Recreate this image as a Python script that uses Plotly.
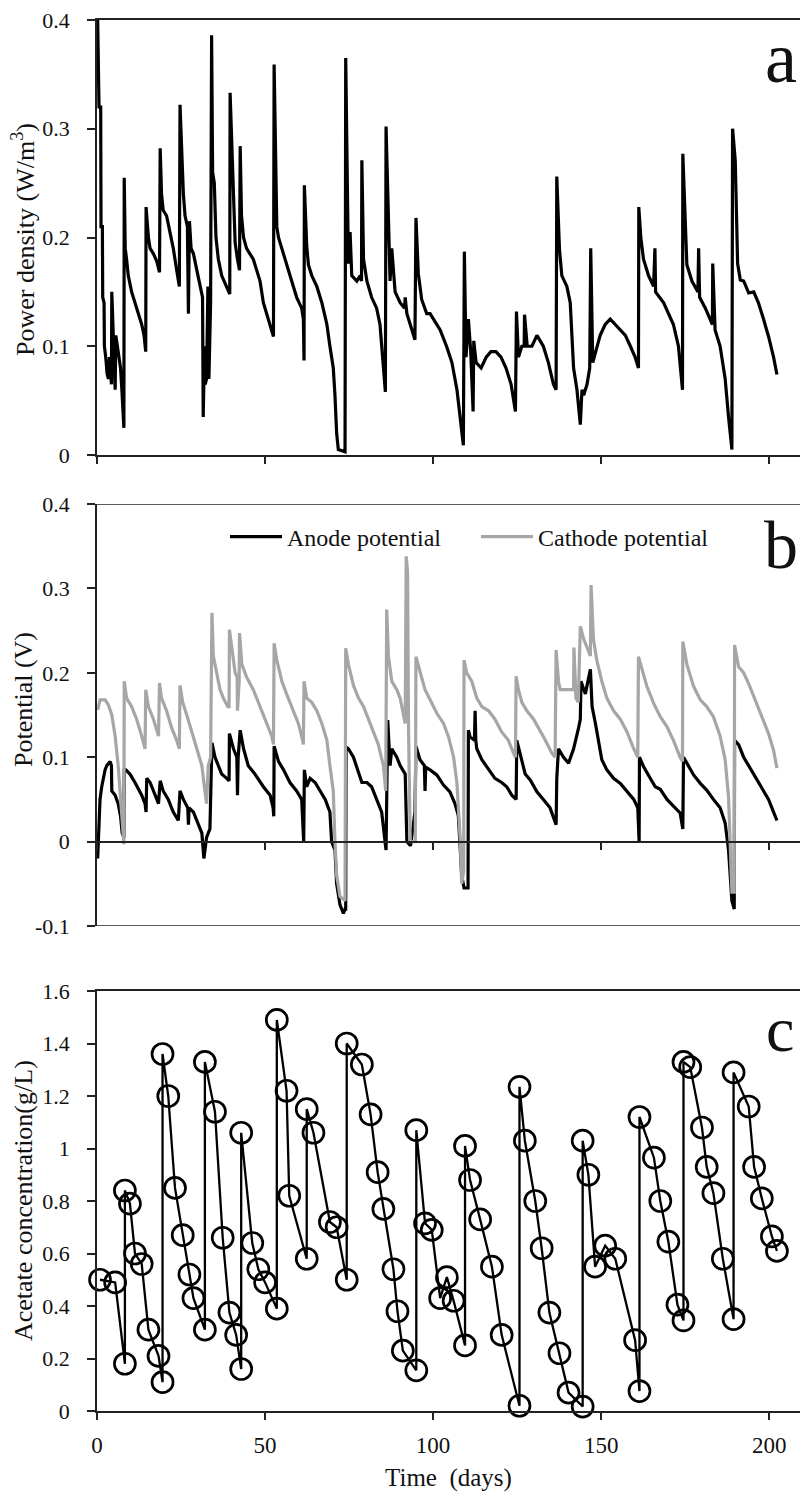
import plotly.graph_objects as go

# ---------------- data ----------------
power_days = [0.2, 0.6, 1.1, 1.2, 1.6, 1.7, 2.1, 2.2, 2.6, 3.0, 3.4, 3.7, 4.0, 4.3, 4.4, 4.7, 5.2, 5.4, 5.6, 6.0,
              6.5, 7.0, 7.4, 7.7, 8.0, 8.1, 8.4, 8.8, 9.3, 10.3, 11.8, 13.3, 14.0, 14.5, 14.6, 15.0, 15.3, 15.8, 16.8, 17.8,
              18.6, 18.8, 19.2, 19.7, 20.7, 21.7, 22.7, 23.7, 24.5, 24.7, 25.2, 25.7, 26.2, 26.9, 27.2, 27.5, 28.0, 28.7, 29.7, 30.7,
              31.4, 31.6, 32.0, 32.2, 32.6, 33.0, 33.3, 33.8, 34.1, 34.4, 34.9, 35.4, 36.1, 37.1, 38.6, 39.5, 39.6, 40.1, 40.6, 41.1,
              41.8, 42.4, 42.6, 43.0, 43.6, 44.5, 45.5, 46.5, 47.5, 48.5, 49.5, 50.5, 51.5, 52.5, 52.7, 53.1, 53.5, 54.0, 55.0, 56.4,
              57.9, 59.4, 60.9, 61.4, 61.6, 61.7, 62.4, 62.9, 63.9, 65.4, 66.9, 68.4, 69.3, 70.3, 70.8, 71.3, 71.8, 73.8, 74.0, 74.5,
              74.8, 75.3, 75.8, 77.3, 78.3, 78.7, 78.8, 79.3, 80.3, 81.7, 83.2, 84.2, 85.2, 85.8, 86.0, 86.7, 87.2, 87.7, 88.7, 90.2,
              91.5, 91.7, 92.2, 93.2, 94.6, 94.9, 95.6, 96.6, 98.1, 99.1, 100.1, 102.1, 104.0, 105.6, 107.1, 108.0, 109.0, 109.3, 109.8, 110.5,
              111.2, 111.9, 112.1, 112.8, 114.3, 115.8, 117.2, 118.7, 120.2, 121.7, 123.2, 124.5, 124.8, 125.4, 126.4, 127.1, 127.2, 128.0, 129.4, 130.9,
              131.8, 132.8, 134.3, 135.8, 136.6, 136.8, 137.6, 138.3, 139.8, 140.8, 141.8, 142.8, 143.8, 144.3, 144.8, 145.8, 146.6, 146.9, 147.5, 148.7,
              149.7, 151.2, 152.7, 154.2, 155.7, 157.2, 158.7, 160.1, 161.1, 161.2, 161.8, 162.6, 164.1, 165.6, 166.0, 166.2, 168.6, 170.0, 171.5, 173.0,
              174.2, 174.3, 175.0, 175.5, 177.0, 178.8, 179.0, 179.3, 181.0, 182.4, 183.1, 183.2, 183.9, 185.4, 186.9, 187.9, 188.9, 189.1, 189.9, 190.6,
              191.4, 192.4, 193.9, 195.4, 196.8, 198.3, 199.8, 201.3, 202.3]
power_vals = [0.40, 0.32, 0.32, 0.21, 0.21, 0.145, 0.14, 0.10, 0.09, 0.075, 0.07, 0.09, 0.08, 0.065, 0.15, 0.12, 0.09, 0.06, 0.11, 0.10,
              0.09, 0.08, 0.06, 0.04, 0.025, 0.255, 0.19, 0.18, 0.165, 0.15, 0.135, 0.12, 0.11, 0.095, 0.228, 0.21, 0.20, 0.19, 0.185, 0.178,
              0.168, 0.282, 0.24, 0.225, 0.22, 0.205, 0.19, 0.17, 0.155, 0.322, 0.28, 0.24, 0.22, 0.21, 0.13, 0.215, 0.19, 0.185, 0.17, 0.155,
              0.145, 0.035, 0.10, 0.065, 0.07, 0.155, 0.07, 0.14, 0.386, 0.26, 0.25, 0.20, 0.18, 0.165, 0.155, 0.148, 0.333, 0.287, 0.22, 0.195,
              0.18, 0.17, 0.284, 0.22, 0.20, 0.19, 0.185, 0.18, 0.17, 0.16, 0.14, 0.13, 0.12, 0.109, 0.359, 0.267, 0.21, 0.20, 0.19, 0.175,
              0.16, 0.145, 0.135, 0.125, 0.087, 0.248, 0.192, 0.175, 0.165, 0.155, 0.14, 0.12, 0.10, 0.08, 0.055, 0.02, 0.005, 0.003, 0.365, 0.26,
              0.176, 0.205, 0.165, 0.16, 0.165, 0.16, 0.271, 0.18, 0.16, 0.145, 0.135, 0.12, 0.08, 0.058, 0.302, 0.21, 0.16, 0.19, 0.15, 0.14,
              0.135, 0.145, 0.13, 0.12, 0.106, 0.218, 0.167, 0.143, 0.13, 0.13, 0.125, 0.115, 0.10, 0.085, 0.06, 0.035, 0.009, 0.187, 0.09, 0.125,
              0.095, 0.04, 0.105, 0.085, 0.08, 0.09, 0.095, 0.095, 0.09, 0.08, 0.065, 0.04, 0.132, 0.09, 0.10, 0.10, 0.129, 0.10, 0.10, 0.11,
              0.105, 0.10, 0.085, 0.065, 0.06, 0.256, 0.189, 0.165, 0.155, 0.14, 0.08, 0.06, 0.028, 0.06, 0.055, 0.065, 0.08, 0.19, 0.085, 0.10,
              0.11, 0.12, 0.125, 0.12, 0.115, 0.11, 0.10, 0.09, 0.08, 0.228, 0.20, 0.18, 0.165, 0.155, 0.19, 0.15, 0.14, 0.13, 0.12, 0.10,
              0.06, 0.277, 0.22, 0.175, 0.16, 0.15, 0.19, 0.145, 0.135, 0.125, 0.12, 0.176, 0.115, 0.10, 0.07, 0.035, 0.005, 0.30, 0.271, 0.176,
              0.161, 0.16, 0.149, 0.15, 0.14, 0.125, 0.109, 0.09, 0.074]

anode_days = [0.2, 0.4, 0.9, 1.4, 2.4, 2.9, 3.9, 4.3, 4.4, 5.4, 6.3, 7.0, 7.5, 8.0, 8.1, 8.6, 9.8, 11.3, 13.3, 14.3,
              14.6, 14.8, 15.8, 17.3, 18.3, 18.8, 19.7, 21.2, 22.7, 24.2, 24.7, 25.7, 27.0, 27.2, 27.4, 28.7, 30.2, 31.2, 31.8, 32.6,
              33.6, 34.2, 35.1, 36.1, 37.1, 38.6, 39.3, 39.4, 40.6, 41.6, 41.8, 42.0, 42.6, 43.6, 45.0, 47.0, 49.5, 51.5, 52.4, 52.6,
              52.7, 54.0, 55.5, 57.4, 59.4, 60.9, 61.5, 61.7, 62.4, 63.4, 64.9, 66.4, 67.9, 69.3, 69.8, 70.8, 71.3, 72.3, 73.3, 73.8,
              74.0, 74.1, 74.8, 76.3, 77.8, 78.8, 80.3, 81.7, 83.2, 84.7, 85.7, 86.0, 86.5, 87.2, 87.7, 89.2, 90.2, 91.7, 92.2, 93.3,
              94.6, 94.9, 96.1, 97.4, 97.6, 97.8, 99.1, 101.1, 103.1, 105.0, 106.5, 107.5, 108.1, 108.5, 109.2, 110.4, 110.5, 111.0, 112.3, 112.5,
              112.7, 113.0, 114.5, 116.5, 118.4, 120.4, 121.9, 123.4, 124.7, 124.9, 125.9, 127.4, 128.9, 130.9, 132.8, 134.8, 136.6, 136.8, 137.3, 138.8,
              140.3, 141.8, 143.3, 143.8, 144.0, 145.3, 146.8, 147.3, 148.3, 149.3, 150.2, 151.7, 153.7, 155.7, 157.7, 159.7, 160.9, 161.1, 161.3, 161.4,
              162.6, 164.6, 166.1, 167.6, 169.6, 171.5, 173.5, 174.3, 174.5, 175.5, 177.5, 179.5, 181.4, 183.4, 185.4, 186.9, 187.9, 188.9, 189.4, 189.6,
              189.7, 190.9, 192.4, 193.9, 195.4, 196.8, 198.3, 199.8, 201.3, 202.3]
anode_vals = [-0.02, 0.01, 0.05, 0.065, 0.085, 0.09, 0.095, 0.09, 0.06, 0.055, 0.045, 0.03, 0.01, 0.005, 0.085, 0.085, 0.08, 0.07, 0.055, 0.045,
              0.035, 0.075, 0.07, 0.055, 0.045, 0.072, 0.06, 0.05, 0.035, 0.025, 0.06, 0.05, 0.04, 0.02, 0.04, 0.035, 0.02, 0.01, -0.02, 0.005,
              0.015, 0.117, 0.10, 0.09, 0.08, 0.075, 0.072, 0.128, 0.11, 0.10, 0.055, 0.10, 0.132, 0.11, 0.09, 0.08, 0.065, 0.055, 0.04, 0.03,
              0.113, 0.095, 0.085, 0.07, 0.06, 0.05, 0.0, 0.085, 0.065, 0.075, 0.07, 0.06, 0.05, 0.035, 0.0, -0.01, -0.05, -0.075, -0.085, -0.08,
              -0.08, 0.112, 0.11, 0.10, 0.08, 0.07, 0.07, 0.065, 0.05, 0.035, 0.0, -0.01, 0.144, 0.09, 0.11, 0.10, 0.09, 0.08, 0.0, -0.005,
              0.035, 0.113, 0.097, 0.09, 0.06, 0.088, 0.085, 0.079, 0.067, 0.059, 0.045, 0.031, -0.01, -0.04, -0.055, -0.055, 0.132, 0.124, 0.12, 0.155,
              0.12, 0.11, 0.097, 0.085, 0.075, 0.07, 0.065, 0.055, 0.05, 0.12, 0.105, 0.08, 0.073, 0.059, 0.05, 0.04, 0.02, 0.075, 0.11, 0.10,
              0.093, 0.11, 0.135, 0.145, 0.19, 0.175, 0.204, 0.16, 0.14, 0.117, 0.097, 0.085, 0.075, 0.069, 0.06, 0.05, 0.04, 0.0, 0.0, 0.10,
              0.089, 0.075, 0.065, 0.062, 0.05, 0.042, 0.034, 0.015, 0.10, 0.093, 0.079, 0.069, 0.061, 0.05, 0.04, 0.022, -0.01, -0.07, -0.08, -0.08,
              0.12, 0.115, 0.10, 0.09, 0.08, 0.07, 0.06, 0.05, 0.035, 0.025]

cathode_days = [0.2, 0.9, 2.4, 3.4, 4.4, 5.4, 6.3, 7.3, 8.0, 8.1, 8.8, 10.3, 11.8, 13.3, 14.3, 14.5, 15.3, 16.8, 18.3, 18.6,
                19.2, 20.7, 22.2, 23.7, 24.5, 24.7, 25.5, 26.7, 28.2, 29.7, 31.2, 32.1, 32.6, 33.1, 33.8, 34.2, 34.6, 35.6, 36.6, 37.6,
                38.9, 39.3, 39.4, 40.1, 41.1, 41.7, 41.8, 42.3, 42.4, 43.1, 44.5, 46.5, 48.5, 50.5, 52.0, 52.5, 52.7, 53.5, 55.0, 56.4,
                58.4, 59.9, 60.9, 61.4, 61.6, 62.4, 63.9, 65.4, 66.9, 68.4, 69.3, 70.3, 70.8, 71.3, 72.3, 73.8, 74.0, 74.8, 76.3, 77.8,
                79.3, 80.8, 82.2, 83.7, 85.2, 85.9, 86.2, 86.7, 87.7, 89.2, 90.2, 91.7, 92.0, 92.4, 92.7, 93.2, 94.0, 94.7, 94.9, 96.1,
                97.6, 99.1, 101.1, 103.1, 104.6, 106.1, 107.1, 108.1, 108.5, 109.1, 109.2, 110.0, 111.5, 113.0, 114.5, 116.5, 118.4, 120.4, 122.4, 123.9,
                124.5, 124.7, 125.4, 126.4, 127.9, 129.9, 131.4, 133.4, 135.3, 136.3, 136.6, 137.3, 137.8, 139.0, 140.4, 141.8, 141.9, 142.5, 143.2, 143.8,
                144.8, 145.8, 146.8, 147.0, 147.7, 148.7, 150.2, 151.7, 153.7, 155.7, 157.7, 159.7, 160.9, 161.1, 162.1, 163.6, 165.6, 167.6, 169.6, 171.5,
                173.5, 174.2, 174.3, 175.5, 177.5, 179.5, 181.4, 183.4, 185.4, 186.9, 187.9, 188.4, 188.9, 189.6, 189.7, 190.9, 192.4, 193.9, 195.4, 196.8,
                198.3, 199.8, 201.3, 202.3]
cathode_vals = [0.156, 0.168, 0.168, 0.162, 0.15, 0.125, 0.09, 0.04, -0.003, 0.19, 0.17, 0.16, 0.145, 0.125, 0.11, 0.18, 0.16, 0.145, 0.125, 0.188,
                0.17, 0.155, 0.135, 0.12, 0.11, 0.185, 0.165, 0.15, 0.13, 0.11, 0.09, 0.06, 0.045, 0.09, 0.10, 0.271, 0.22, 0.20, 0.18, 0.17,
                0.16, 0.16, 0.251, 0.23, 0.20, 0.195, 0.155, 0.19, 0.247, 0.21, 0.195, 0.18, 0.16, 0.14, 0.125, 0.115, 0.235, 0.215, 0.19, 0.175,
                0.155, 0.14, 0.125, 0.115, 0.19, 0.17, 0.165, 0.155, 0.14, 0.12, 0.09, 0.06, 0.0, -0.04, -0.065, -0.07, 0.229, 0.21, 0.185, 0.17,
                0.16, 0.145, 0.13, 0.115, 0.09, 0.06, 0.275, 0.22, 0.19, 0.18, 0.17, 0.14, 0.338, 0.32, 0.13, 0.0, 0.0, 0.0, 0.219, 0.20,
                0.18, 0.168, 0.152, 0.14, 0.124, 0.10, 0.069, 0.0, -0.05, -0.035, 0.215, 0.20, 0.19, 0.17, 0.16, 0.155, 0.145, 0.13, 0.12, 0.105,
                0.10, 0.196, 0.18, 0.165, 0.155, 0.145, 0.135, 0.12, 0.105, 0.10, 0.227, 0.19, 0.18, 0.18, 0.18, 0.18, 0.23, 0.17, 0.165, 0.255,
                0.24, 0.23, 0.22, 0.304, 0.24, 0.215, 0.19, 0.17, 0.155, 0.145, 0.13, 0.11, 0.10, 0.219, 0.204, 0.184, 0.164, 0.148, 0.136, 0.12,
                0.10, 0.095, 0.237, 0.21, 0.184, 0.168, 0.16, 0.148, 0.125, 0.097, 0.053, -0.005, -0.06, -0.06, 0.233, 0.207, 0.20, 0.187, 0.172, 0.158,
                0.144, 0.128, 0.108, 0.087]

acetate_days = [0.9, 5.4, 8.3, 8.3, 9.8, 11.3, 13.3, 15.3, 18.3, 19.5, 19.5, 21.2, 23.2, 25.5, 27.5, 28.7, 32.1, 32.1, 35.1, 37.4,
                39.4, 41.4, 42.9, 42.9, 46.2, 48.0, 50.0, 53.5, 53.5, 56.4, 57.2, 62.4, 62.4, 64.4, 69.3, 71.3, 74.3, 74.3, 78.8, 81.4,
                83.5, 85.2, 88.2, 89.4, 91.0, 95.0, 95.0, 97.6, 99.6, 102.1, 104.1, 106.1, 109.5, 109.5, 111.0, 114.0, 117.5, 120.4, 125.7, 125.7,
                127.3, 130.4, 132.3, 134.6, 137.6, 140.3, 144.5, 144.5, 146.2, 148.2, 151.2, 154.2, 160.1, 161.4, 161.4, 165.7, 167.6, 170.0, 172.7, 174.5,
                174.5, 176.5, 180.0, 181.4, 183.4, 186.2, 189.4, 189.4, 193.9, 195.5, 197.8, 200.8, 202.3]
acetate_vals = [0.50, 0.49, 0.18, 0.84, 0.79, 0.60, 0.56, 0.31, 0.21, 0.11, 1.36, 1.20, 0.85, 0.67, 0.52, 0.43, 0.31, 1.33, 1.14, 0.66,
                0.375, 0.29, 0.16, 1.06, 0.64, 0.54, 0.49, 0.39, 1.49, 1.22, 0.82, 0.58, 1.15, 1.06, 0.72, 0.70, 0.50, 1.40, 1.32, 1.13,
                0.91, 0.77, 0.54, 0.38, 0.23, 0.155, 1.07, 0.715, 0.69, 0.43, 0.51, 0.42, 0.25, 1.01, 0.88, 0.73, 0.55, 0.29, 0.02, 1.235,
                1.03, 0.80, 0.62, 0.375, 0.22, 0.07, 0.017, 1.03, 0.90, 0.55, 0.63, 0.58, 0.27, 0.076, 1.12, 0.965, 0.80, 0.645, 0.405, 0.345,
                1.33, 1.31, 1.08, 0.93, 0.83, 0.58, 0.35, 1.29, 1.16, 0.93, 0.81, 0.665, 0.61]

x_ticks = [0, 50, 100, 150, 200]
x_ticktext = ["0", "50", "100", "150", "200"]
power_ticks = [0, 0.1, 0.2, 0.3, 0.4]
power_ticktext = ["0", "0.1", "0.2", "0.3", "0.4"]
pot_ticks = [-0.1, 0, 0.1, 0.2, 0.3, 0.4]
pot_ticktext = ["-0.1", "0", "0.1", "0.2", "0.3", "0.4"]
ac_ticks = [0, 0.2, 0.4, 0.6, 0.8, 1.0, 1.2, 1.4, 1.6]
ac_ticktext = ["0", "0.2", "0.4", "0.6", "0.8", "1", "1.2", "1.4", "1.6"]

# ---------------- layout helpers (pixels) ----------------
W, H = 800, 1492
LEFT, TOP = 97, 20
PLOT_BOTTOM = 1411
BOTTOM = H - PLOT_BOTTOM
PH = PLOT_BOTTOM - TOP
PW = W - LEFT
PX_PER_DAY = 3.361
XMAX = PW / PX_PER_DAY


def yf(p):
    return (PLOT_BOTTOM - p) / PH


def xf(p):
    return (p - LEFT) / PW


FONT = "Liberation Serif"
TXT = "#111111"
AX = "#222222"
LW = 3.2

fig = go.Figure()
fig.add_trace(go.Scatter(x=power_days, y=power_vals, mode="lines", xaxis="x", yaxis="y",
                         line=dict(color="black", width=LW), showlegend=False, name="Power density"))
fig.add_trace(go.Scatter(x=anode_days, y=anode_vals, mode="lines", xaxis="x2", yaxis="y2",
                         line=dict(color="black", width=LW), name="Anode potential"))
fig.add_trace(go.Scatter(x=cathode_days, y=cathode_vals, mode="lines", xaxis="x2", yaxis="y2",
                         line=dict(color="#a6a6a6", width=LW), name="Cathode potential"))
fig.add_trace(go.Scatter(x=acetate_days, y=acetate_vals, mode="lines+markers", xaxis="x3", yaxis="y3",
                         line=dict(color="black", width=2.3), cliponaxis=False,
                         marker=dict(symbol="circle-open", size=21, color="black", line=dict(width=2.7, color="black")),
                         showlegend=False, name="Acetate"))

common_x = dict(range=[0, XMAX], tickvals=x_ticks, ticktext=x_ticktext, ticks="outside", ticklen=7,
                tickwidth=1.5, tickcolor=AX, showline=True, linecolor=AX, linewidth=1.5,
                showgrid=False, zeroline=False, domain=[0, 1],
                tickfont=dict(family=FONT, size=23, color=TXT))
common_y = dict(ticks="outside", ticklen=8, tickwidth=1.5, tickcolor=AX, showline=True, linecolor=AX,
                linewidth=1.5, showgrid=False, zeroline=False, ticklabelstandoff=13,
                tickfont=dict(family=FONT, size=22, color=TXT))

fig.update_layout(
    width=W, height=H, margin=dict(l=LEFT, r=0, t=TOP, b=BOTTOM, pad=0),
    paper_bgcolor="white", plot_bgcolor="white",
    font=dict(family=FONT, color=TXT),
    xaxis=dict(common_x, anchor="y", mirror=True, showticklabels=False),
    yaxis=dict(common_y, anchor="x", domain=[yf(455), yf(20)], range=[0, 0.4],
               tickvals=power_ticks, ticktext=power_ticktext),
    xaxis2=dict(common_x, anchor="free", position=yf(842), showticklabels=False),
    yaxis2=dict(common_y, anchor="x2", domain=[yf(926), yf(504)], range=[-0.1, 0.4],
                tickvals=pot_ticks, ticktext=pot_ticktext),
    xaxis3=dict(common_x, anchor="y3", mirror=True, ticklabelstandoff=6,
                title=dict(text="Time  (days)", font=dict(family=FONT, size=25, color=TXT), standoff=12)),
    yaxis3=dict(common_y, anchor="x3", domain=[0, yf(991)], range=[0, 1.6],
                tickvals=ac_ticks, ticktext=ac_ticktext),
    legend=dict(orientation="h", x=xf(225), y=yf(537), xanchor="left", yanchor="middle",
                font=dict(family=FONT, size=24, color=TXT), bgcolor="rgba(0,0,0,0)",
                itemwidth=52, entrywidth=184, entrywidthmode="pixels"),
    shapes=[
        dict(type="line", xref="x2 domain", yref="y2", x0=0, x1=1, y0=0.4, y1=0.4,
             line=dict(color=AX, width=1.5)),
        dict(type="line", xref="x2 domain", yref="y2", x0=0, x1=1, y0=-0.1, y1=-0.1,
             line=dict(color=AX, width=1.5)),
    ],
)

# y-axis titles (rotated)
ytitles = [("Power density (W/m<sup>3</sup>)", 240), ("Potential (V)", 700), ("Acetate concentration(g/L)", 1201)]
for txt, cy in ytitles:
    fig.add_annotation(text=txt, xref="paper", yref="paper", x=xf(23), y=yf(cy), xanchor="center",
                       yanchor="middle", textangle=-90, showarrow=False,
                       font=dict(family=FONT, size=26, color=TXT))

# panel letters
letters = [("a", 763, 83, 72), ("b", 762, 569, 68), ("c", 764, 1052, 64)]
for t, lx, base, fs in letters:
    fig.add_annotation(text=t, xref="paper", yref="paper", x=xf(lx), y=yf(base + 0.22 * fs + 1),
                       xanchor="left", yanchor="bottom", showarrow=False,
                       font=dict(family=FONT, size=fs, color=TXT))

fig.write_html("out.html")
